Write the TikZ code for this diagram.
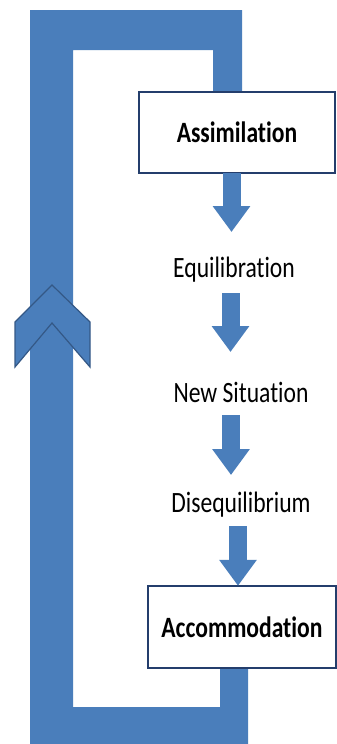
\documentclass[tikz,border=0pt]{standalone}
\usepackage{fontspec}
\setmainfont{Carlito}
\newfontfamily\narrowfont[FakeStretch=0.8, Ligatures=NoCommon, RawFeature={-liga;-dlig;-clig}]{Carlito}
\usetikzlibrary{arrows.meta,calc}
\definecolor{loopblue}{RGB}{74,126,187}
\definecolor{edgeblue}{RGB}{52,88,134}
\definecolor{boxline}{RGB}{36,62,108}
\tikzset{
  stagebox/.style={draw=boxline, line width=2.4pt, fill=white, inner sep=0pt,
    font=\narrowfont\fontsize{29.5}{34}\selectfont\bfseries},
  stagetext/.style={inner sep=0pt, font=\narrowfont\fontsize{29.5}{34}\selectfont},
  bigarrow/.style={draw=loopblue, line width=18pt,
    -{Triangle[width=36pt,length=26pt]}},
  loopband/.style={fill=loopblue, draw=none},
  chevronmark/.style={fill=loopblue, draw=edgeblue, line width=1.2pt, line join=miter}
}
\begin{document}
\begin{tikzpicture}[x=1pt,y=-1pt]
\useasboundingbox (0,0) rectangle (337,744);
% feedback loop band
\path[loopband] (30,744) -- (30,10) -- (242,10) -- (242,100) -- (213,100) -- (213,50)
  -- (73,50) -- (73,707) -- (220,707) -- (220,660) -- (248,660) -- (248,744) -- cycle;
% chevron on the loop
\path[chevronmark] (52,285) -- (90,322) -- (90,367) -- (52,323) -- (15,367) -- (15,322) -- cycle;
% stages
\node[stagebox, minimum width=196pt, minimum height=81pt] (assim) at (237,132.5) {Assimilation};
\node[stagetext] (equi) at (234,270) {Equilibration};
\node[stagetext] (newsit) at (241,392) {New Situation};
\node[stagetext] (diseq) at (241,505) {Disequilibrium};
\node[stagebox, minimum width=188pt, minimum height=82pt] (accom) at (242,627) {Accommodation};
% arrows
\draw[bigarrow] ($(assim.south)+(-5.5,-1)$) -- ($(equi.center)+(-2.5,-38)$);
\draw[bigarrow] ($(equi.center)+(-3.5,23)$) -- ($(newsit.center)+(-10.5,-40)$);
\draw[bigarrow] ($(newsit.center)+(-10,23)$) -- ($(diseq.center)+(-10,-30)$);
\draw[bigarrow] ($(diseq.center)+(-3,21)$) -- ($(accom.north)+(-4,1)$);
\end{tikzpicture}
\end{document}
